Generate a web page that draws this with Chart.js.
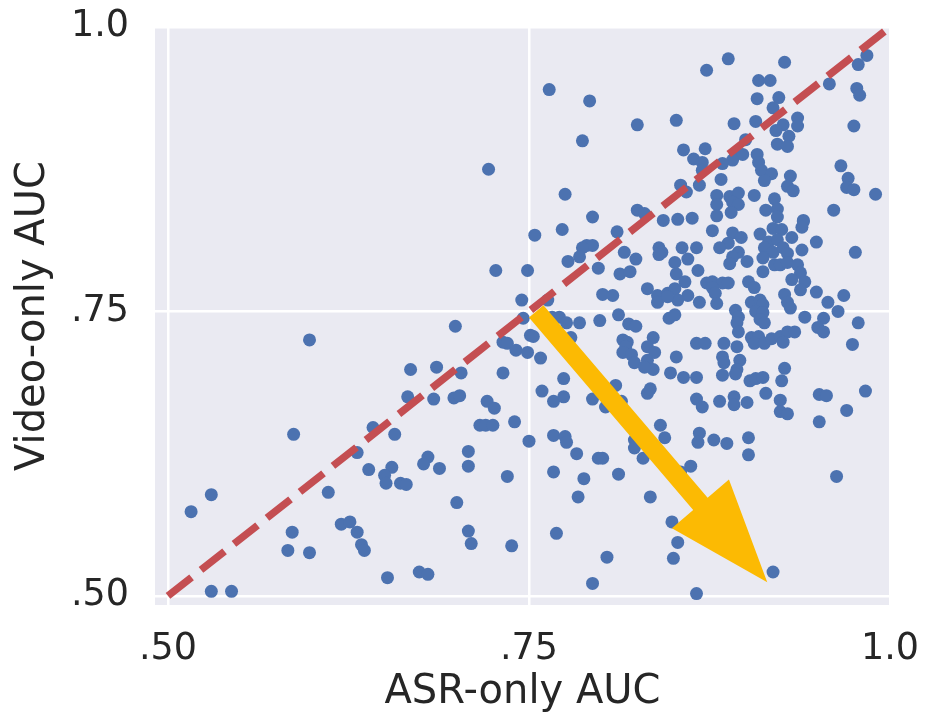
<!DOCTYPE html>
<html>
<head>
<meta charset="utf-8">
<script src="https://cdn.jsdelivr.net/npm/chart.js@4.4.1/dist/chart.umd.min.js"></script>
<style>
  html, body { margin: 0; padding: 0; background: #fff; }
  #wrap { width: 925px; height: 722px; }
</style>
</head>
<body>
<div id="wrap"><canvas id="auc" width="925" height="722"></canvas></div>
<script>
// one entry per video: ASR-only AUC (x) against video-only AUC (y)
const asrAuc = [
  .699,.598,.746,.751,.732,.735,.741,.749,.668,.686,
  .703,.732,.666,.684,.698,.702,.721,.726,.716,.720,
  .725,.740,.750,.587,.642,.657,.631,.639,.655,.650,
  .651,.661,.665,.680,.677,.688,.708,.708,.735,.611,
  .530,.516,.700,.620,.626,.631,.586,.583,.598,.634,
  .636,.708,.710,.738,.652,.674,.680,.530,.544,.722,
  .727,.749,.754,.745,
  .873,.764,.792,.825,.852,.787,.857,.872,.864,.870,
  .870,.855,.859,.868,.775,.825,.830,.794,.843,.853,.863,
  .888,.927,.909,.917,.984,.978,.958,.977,.979,.908,
  .923,.919,.936,.936,.892,.907,.926,.921,.930,.900,
  .922,.929,.975,.893,.898,.891,.884,.908,.909,.911,
  .918,.913,.883,.931,.929,.933,.966,.971,.970,.975,
  .990,.880,.880,.889,.895,.891,.895,.906,.920,.914,
  .922,.922,.880,.890,.961,.940,
  .773,.811,.790,.794,.787,.785,.777,.798,.816,.824,
  .813,.820,.840,.842,.840,.856,.866,.851,.860,.867,
  .852,.858,.832,.839,.846,.851,.860,.853,.839,.846,
  .868,.801,.808,.763,.766,.771,.776,.785,.799,.812,
  .819,.824,.847,.851,.753,.779,.815,.818,.817,.815,
  .821,.823,.836,.832,.837,.832,.836,.830,.758,.852,
  .848,.857,.866,.866,.872,.774,.759,.767,.774,.810,
  .794,.814,.832,.834,.866,.870,
  .940,.939,.877,.891,.897,.888,.882,.895,.891,.889,
  .901,.910,.919,.925,.916,.922,.932,.913,.919,.912,
  .926,.929,.939,.949,.976,.920,.912,.924,.929,.936,
  .938,.932,.941,.938,.949,.957,.968,.964,.873,.877,
  .884,.888,.877,.879,.880,.902,.906,.927,.929,.931,
  .893,.895,.894,.904,.910,.912,.907,.912,.910,.913,
  .941,.954,.950,.954,.978,.895,.904,.909,.906,.913,
  .918,.924,.929,.934,.926,.885,.894,.974,.884,.885,
  .896,.894,.884,.893,.927,.925,.903,.907,.912,.914,
  .882,.892,.892,.901,.924,.951,.956,.983,.970,
  .924,.929,.951,.878,.887,.902,.902,.963,.919,
  .803,.767,.775,.776,.783,.798,.801,.767,.788,.812,
  .784,.823,.823,.829,.841,.844,.868,.867,.862,.855,
  .834,.849,.853,.850,.769,.804,.794,.866
]
const videoAuc = [
  .737,.725,.744,.729,.723,.722,.716,.714,.699,.701,
  .696,.696,.675,.673,.674,.676,.671,.665,.650,.650,
  .650,.653,.636,.642,.648,.642,.626,.611,.613,.606,
  .599,.599,.598,.622,.616,.612,.627,.614,.605,.591,
  .589,.574,.582,.563,.565,.556,.556,.540,.538,.545,
  .540,.557,.546,.544,.516,.521,.519,.504,.504,.875,
  .786,.786,.817,.760,
  .962,.945,.935,.914,.918,.900,.892,.893,.884,.881,
  .874,.861,.855,.861,.853,.839,.836,.833,.830,.831,.832,
  .972,.969,.953,.953,.975,.967,.950,.946,.940,.937,
  .938,.929,.920,.913,.915,.917,.914,.909,.904,.901,
  .897,.895,.913,.888,.888,.883,.880,.888,.881,.874,
  .871,.865,.866,.869,.860,.856,.878,.867,.859,.857,
  .853,.852,.844,.851,.854,.846,.844,.852,.849,.839,
  .840,.833,.834,.837,.839,.830,
  .822,.820,.808,.808,.806,.798,.794,.788,.802,.796,
  .783,.785,.806,.802,.800,.806,.806,.793,.796,.786,
  .783,.776,.770,.764,.766,.770,.764,.760,.758,.763,
  .758,.765,.764,.760,.745,.745,.740,.740,.742,.747,
  .739,.737,.744,.747,.728,.727,.725,.723,.719,.714,
  .712,.705,.727,.719,.714,.707,.699,.701,.709,.710,
  .696,.692,.692,.722,.722,.691,.680,.671,.675,.685,
  .673,.671,.678,.682,.673,.666,
  .829,.824,.821,.819,.815,.810,.806,.802,.798,.792,
  .794,.818,.823,.822,.811,.813,.815,.806,.802,.797,
  .806,.801,.804,.811,.802,.791,.785,.791,.793,.791,
  .784,.778,.776,.769,.767,.758,.764,.750,.775,.776,
  .775,.775,.771,.766,.757,.776,.771,.765,.758,.753,
  .751,.745,.740,.758,.760,.756,.750,.749,.743,.740,
  .745,.744,.736,.732,.740,.732,.727,.728,.722,.722,
  .726,.728,.732,.732,.723,.722,.719,.721,.710,.705,
  .707,.699,.694,.695,.700,.689,.689,.691,.692,.678,
  .671,.675,.668,.670,.672,.677,.676,.680,.663,
  .662,.660,.653,.637,.634,.639,.624,.605,.521,
  .666,.641,.640,.635,.625,.621,.621,.609,.603,.607,
  .587,.637,.630,.621,.650,.639,.643,.635,.614,.609,
  .587,.565,.547,.533,.555,.534,.511,.502
]

const diagonal = [0.5, 1.0]          // y = x reference line
const arrowFrom = [0.755, 0.75]      // arrow tail (asr, video)
const arrowTo = [0.915, 0.512]       // arrow tip
const tickValues = [0.5, 0.75, 1.0]
const tickLabels = ['.50', '.75', '1.0']

const ink = '#262626'
const tickFont = { family: 'DejaVu Sans', size: 36.5 }
const titleFont = { family: 'DejaVu Sans', size: 40 }

const plotBg = {
  id: 'plotBg',
  beforeDraw(chart) {
    const { ctx, chartArea: a } = chart
    ctx.save()
    ctx.fillStyle = '#eaeaf2'
    ctx.fillRect(a.left, a.top, a.right - a.left, a.bottom - a.top)
    ctx.restore()
  }
}

const arrow = {
  id: 'arrow',
  afterDatasetsDraw(chart) {
    const { ctx, scales: { x, y } } = chart
    const x0 = x.getPixelForValue(arrowFrom[0]), y0 = y.getPixelForValue(arrowFrom[1])
    const x1 = x.getPixelForValue(arrowTo[0]), y1 = y.getPixelForValue(arrowTo[1])
    const len = Math.hypot(x1 - x0, y1 - y0)
    const shaft = 19, headW = 75, headL = 103
    ctx.save()
    ctx.translate(x0, y0)
    ctx.rotate(Math.atan2(y1 - y0, x1 - x0))
    ctx.fillStyle = '#fcba03'
    ctx.beginPath()
    ctx.moveTo(0, -shaft / 2)
    ctx.lineTo(len - headL, -shaft / 2)
    ctx.lineTo(len - headL, -headW / 2)
    ctx.lineTo(len, 0)
    ctx.lineTo(len - headL, headW / 2)
    ctx.lineTo(len - headL, shaft / 2)
    ctx.lineTo(0, shaft / 2)
    ctx.closePath()
    ctx.fill()
    ctx.restore()
  }
}

function axis(min, title, size, pad) {
  return {
    type: 'linear',
    min: min,
    max: 1.0,
    afterBuildTicks: s => { s.ticks = tickValues.map(v => ({ value: v })) },
    // fixed box size, and no extra margin for the end labels
    afterFit: s => {
      if (s.isHorizontal()) s.height = size
      else s.width = size
      s.paddingTop = s.paddingBottom = s.paddingLeft = s.paddingRight = 0
    },
    ticks: {
      callback: (v, i) => tickLabels[i],
      font: tickFont,
      color: ink,
      padding: pad,
      maxRotation: 0
    },
    grid: { color: '#ffffff', lineWidth: 2.5, drawTicks: false },
    border: { display: false },
    title: { display: true, text: title, font: titleFont, color: ink }
  }
}

const xAxis = axis(0.491, 'ASR-only AUC', 117, 22.5)
xAxis.title.padding = { top: 0, bottom: 5 }

const yAxis = axis(0.492, 'Video-only AUC', 155, 26)
yAxis.title.padding = { top: 10, bottom: 0 }

new Chart(document.getElementById('auc'), {
  type: 'scatter',
  data: {
    datasets: [{
      type: 'line',
      data: diagonal.map(v => ({ x: v, y: v })),
      borderColor: '#c44e52',
      borderWidth: 7.5,
      borderDash: [30, 12],
      pointRadius: 0,
      fill: false,
      order: 0
    }, {
      data: asrAuc.map((v, i) => ({ x: v, y: videoAuc[i] })),
      backgroundColor: '#4c72b0',
      borderWidth: 0,
      pointRadius: 6.5,
      order: 1
    }]
  },
  options: {
    responsive: false,
    animation: false,
    devicePixelRatio: 1,
    layout: { padding: { top: 27, right: 35, left: 0, bottom: 0 } },
    plugins: { legend: { display: false }, tooltip: { enabled: false } },
    scales: { x: xAxis, y: yAxis }
  },
  plugins: [plotBg, arrow]
})
</script>
</body>
</html>
